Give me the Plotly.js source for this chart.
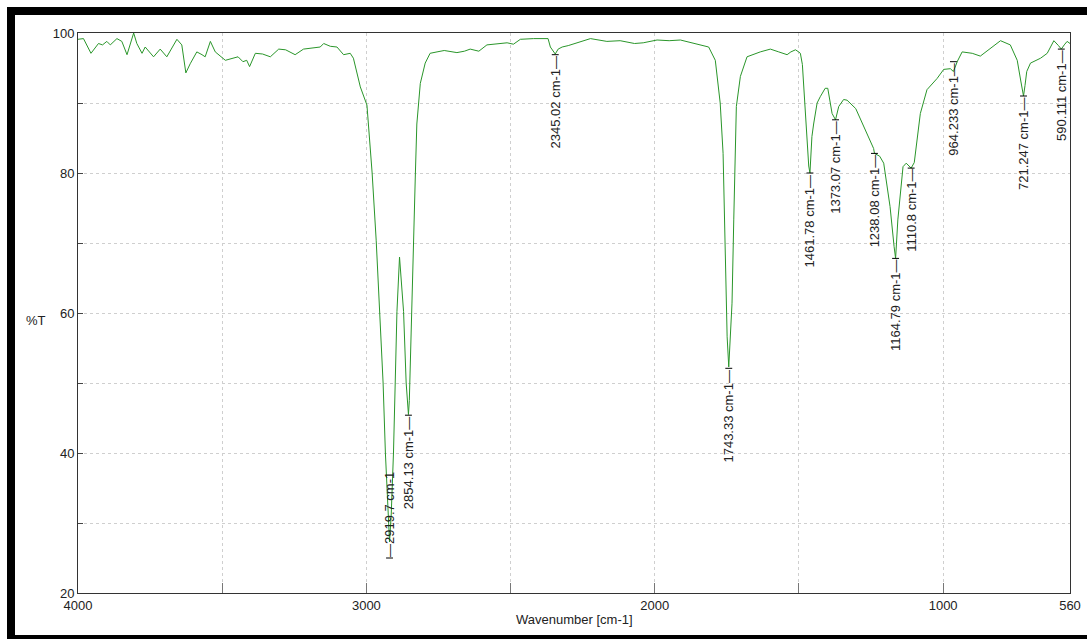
<!DOCTYPE html>
<html>
<head>
<meta charset="utf-8">
<script src="https://cdn.plot.ly/plotly-3.0.1.min.js"></script>
<style>
html,body{margin:0;padding:0;background:#fff;overflow:hidden;}
#chart{position:absolute;left:0;top:0;width:1087px;height:639px;}
#frame{position:absolute;left:7px;top:7px;width:1200px;height:620px;border-left:8px solid #000;border-top:8px solid #000;border-bottom:8px solid #000;pointer-events:none;}
</style>
</head>
<body>
<div id="chart"></div>
<div id="frame"></div>
<script>
// Spectrum (wavenumber cm-1, %T)
const wavenumber = [4000,3981,3955,3929,3915,3900,3888,3865,3848,3830,3807,3796,3778,3767,3738,3715,3692,3657,3640,3626,3611,3588,3570,3559,3541,3524,3489,3461,3445,3428,3415,3405,3385,3360,3333,3304,3280,3247,3218,3160,3148,3125,3102,3079,3056,3045,3021,2998,2980,2966,2954,2942,2934,2923,2919.7,2914,2906,2900,2894,2885,2878,2871,2862,2856,2854.13,2851,2848,2842,2838,2830,2825,2813,2796,2779,2755,2730,2686,2660,2640,2610,2582,2512,2490,2466,2420,2380,2370,2362,2348,2345.02,2335,2321,2300,2258,2223,2166,2120,2070,2040,1992,1950,1911,1880,1853,1813,1790,1773,1763,1755,1749,1743.33,1740,1732,1726,1717,1703,1680,1634,1599,1570,1541,1528,1512,1501,1495,1488,1480,1472,1466,1461.78,1455,1449,1437,1426,1409,1400,1390,1385,1373.07,1362,1345,1333,1303,1264,1241,1238.08,1220,1206,1195,1184,1170,1164.79,1157,1145,1139,1128,1115,1110.8,1100,1090,1079,1056,1021,998,975,964.233,950,934,899,871,836,801,767,743,730,721.247,716,710,697,662,639,616,600,590.111,580,570,560];
const transmittance = [99.1,99.2,97.1,98.5,98.3,98.8,98.3,99.2,98.8,96.9,100,98.5,97.1,98.0,96.6,97.7,96.6,99.1,98.3,94.3,95.6,97.3,96.9,96.6,98.8,97.3,96.1,96.4,96.6,95.9,96.1,95.2,97.1,97.0,96.6,97.7,97.6,96.9,97.7,98.0,98.5,98.1,98.0,96.9,97.1,96.4,92.3,89.7,80.0,70.4,60.2,50.0,40.0,28.5,27.3,31.0,40.0,50.0,60.2,68.0,64.5,60.2,50.0,47.1,45.5,47.5,52.3,60.2,70.4,80.0,87.0,92.8,95.7,97.1,97.3,97.5,97.2,97.4,97.7,97.4,98.3,98.6,98.4,99.1,99.2,99.2,99.2,98.0,97.0,97.0,97.7,98.0,98.2,98.8,99.2,98.8,98.9,98.5,98.6,99.0,98.9,99.0,98.7,98.4,98.0,96.1,90.0,82.8,68.5,56.6,52.3,55.0,61.4,73.3,89.5,93.8,96.6,97.3,97.7,97.3,96.9,97.3,97.6,97.3,97.1,95.5,90.0,85.0,81.0,80.0,85.2,87.0,90.0,90.9,92.1,92.1,90.0,88.5,87.6,89.5,90.5,90.4,89.2,85.7,83.5,82.8,82.4,81.4,78.5,75.2,69.5,67.8,73.3,79.0,80.9,81.4,80.9,80.7,81.5,84.5,88.5,91.9,93.5,94.8,94.9,94.5,96.0,97.3,97.1,96.7,97.8,98.9,98.3,96.1,93.0,91.0,92.5,94.5,95.7,96.4,97.1,98.9,98.2,97.7,98.3,98.8,98.5];

// Peak labels
const peakWavenumber = [2919.7,2854.13,2345.02,1743.33,1461.78,1373.07,1238.08,1164.79,1110.8,964.233,721.247,590.111];
const peakT = [25.0,45.4,96.9,52.1,80.0,87.6,82.8,67.8,80.7,95.9,91.0,97.7];
const peakText = ['2919.7','2854.13','2345.02','1743.33','1461.78','1373.07','1238.08','1164.79','1110.8','964.233','721.247','590.111'];
const peakAbove = [true,false,false,false,false,false,false,false,false,false,false,false];

const xTickVals = [4000,3500,3000,2500,2000,1500,1000,560];
const xTickText = ['4000','','3000','','2000','','1000','560'];
const yTickVals = [20,30,40,50,60,70,80,90,100];
const yTickText = ['20','','40','','60','','80','','100'];

const font = {family:'Liberation Sans, Arial, sans-serif', size:13, color:'#222'};

const annotations = peakWavenumber.map((w,i)=>({
  x:w, y:peakT[i], xref:'x', yref:'y',
  text: peakAbove[i] ? '\u2014' + peakText[i] + ' cm-1' : peakText[i] + ' cm-1\u2014',
  textangle:-90, showarrow:false,
  xanchor:'center', yanchor: peakAbove[i] ? 'bottom' : 'top',
  font:font, borderpad:0
}));
annotations.push({xref:'paper',yref:'paper',x:-0.042,y:0.4875,text:'%T',showarrow:false,font:font,xanchor:'center',yanchor:'middle'});
annotations.push({xref:'paper',yref:'paper',x:0.5,y:-0.048,text:'Wavenumber [cm-1]',showarrow:false,font:font,xanchor:'center',yanchor:'middle'});

const shapes = peakWavenumber.map((w,i)=>({
  type:'line', xref:'x', yref:'y', x0:w+12, x1:w-12, y0:peakT[i], y1:peakT[i],
  line:{color:'#000', width:1}
}));

const trace = {
  x: wavenumber, y: transmittance, type:'scatter', mode:'lines',
  line:{color:'#2a962a', width:1}, hoverinfo:'skip'
};

const layout = {
  width:1087, height:639,
  margin:{l:78, r:17, t:33, b:46},
  paper_bgcolor:'#fff', plot_bgcolor:'#fff',
  showlegend:false,
  font:font,
  xaxis:{
    range:[4000,560], tickmode:'array', tickvals:xTickVals, ticktext:xTickText,
    ticks:'inside', ticklen:10, tickcolor:'#777', tickwidth:1,
    showgrid:true, gridcolor:'#cfcfcf', griddash:'dot', gridwidth:1,
    showline:true, linecolor:'#333', linewidth:1, mirror:true,
    zeroline:false, tickfont:font, fixedrange:true
  },
  yaxis:{
    range:[20,100], tickmode:'array', tickvals:yTickVals, ticktext:yTickText,
    ticks:'inside', ticklen:5, tickcolor:'#444', tickwidth:1,
    showgrid:true, gridcolor:'#cfcfcf', griddash:'dot', gridwidth:1,
    showline:true, linecolor:'#333', linewidth:1, mirror:true,
    zeroline:false, tickfont:font, fixedrange:true
  },
  annotations:annotations,
  shapes:shapes
};

Plotly.newPlot('chart',[trace],layout,{displayModeBar:false, staticPlot:true});
</script>
</body>
</html>
